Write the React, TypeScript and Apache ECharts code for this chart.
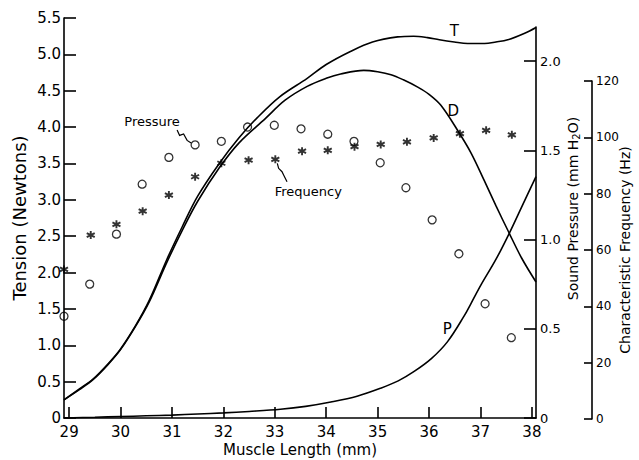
import React, { useEffect, useRef } from "react";
import * as echarts from "echarts";

const FONT = "DejaVu Sans";

// Muscle length tick values (mm)
const xTickValues = [29, 30, 31, 32, 33, 34, 35, 36, 37, 38];
// Sound pressure tick values (mm H2O)
const pressureTickValues = [0, 0.5, 1.0, 1.5, 2.0];

// Curve T (tension, N) vs muscle length (mm)
const curveT: [number, number][] = [
  [28.9, 0.25], [29.2, 0.4], [29.47, 0.54], [29.75, 0.74], [30.0, 0.95],
  [30.3, 1.28], [30.56, 1.62], [30.9, 2.18], [31.2, 2.63], [31.5, 3.05],
  [31.92, 3.5], [32.3, 3.85], [32.66, 4.13], [33.1, 4.42], [33.63, 4.67],
  [34.0, 4.86], [34.47, 5.04], [34.9, 5.17], [35.39, 5.24], [35.7, 5.25],
  [35.97, 5.23], [36.2, 5.2], [36.49, 5.17], [36.75, 5.15], [37.08, 5.15],
  [37.3, 5.17], [37.53, 5.2], [37.86, 5.29], [38.08, 5.37],
];

// Curve D
const curveD: [number, number][] = [
  [28.9, 0.25], [29.2, 0.39], [29.47, 0.53], [29.75, 0.73], [30.0, 0.94],
  [30.3, 1.27], [30.56, 1.6], [30.9, 2.14], [31.2, 2.58], [31.5, 2.98],
  [31.92, 3.44], [32.3, 3.78], [32.82, 4.12], [33.2, 4.37], [33.63, 4.56],
  [34.0, 4.67], [34.28, 4.73], [34.73, 4.78], [35.0, 4.76], [35.26, 4.72],
  [35.5, 4.65], [35.78, 4.55], [36.0, 4.45], [36.23, 4.3], [36.56, 3.95],
  [36.82, 3.64], [37.07, 3.27], [37.3, 2.92], [37.56, 2.54], [37.8, 2.2],
  [38.08, 1.87],
];

// Curve P
const curveP: [number, number][] = [
  [28.9, 0.0], [29.5, 0.01], [30.0, 0.02], [30.5, 0.03], [31.0, 0.04],
  [31.5, 0.055], [32.0, 0.07], [32.5, 0.09], [33.11, 0.12], [33.6, 0.16],
  [34.09, 0.22], [34.6, 0.3], [35.06, 0.41], [35.4, 0.51], [35.71, 0.64],
  [36.05, 0.82], [36.36, 1.05], [36.68, 1.4], [36.82, 1.58], [37.01, 1.83],
  [37.3, 2.18], [37.56, 2.54], [37.8, 2.9], [38.08, 3.32],
];

// Sound pressure (mm H2O) measurements
const pressurePoints: [number, number][] = [
  [28.9, 0.57], [29.4, 0.75], [29.92, 1.03], [30.42, 1.31], [30.94, 1.46],
  [31.45, 1.53], [31.96, 1.55], [32.47, 1.63], [32.99, 1.64], [33.51, 1.62],
  [34.03, 1.59], [34.54, 1.55], [35.05, 1.43], [35.55, 1.29], [36.06, 1.11],
  [36.58, 0.92], [37.09, 0.64], [37.6, 0.45],
];

// Characteristic frequency (Hz) measurements
const frequencyPoints: [number, number][] = [
  [28.9, 53.1], [29.42, 65.3], [29.92, 69.1], [30.43, 73.8], [30.94, 79.5],
  [31.45, 86.0], [31.96, 90.8], [32.49, 91.9], [33.01, 92.2], [33.53, 95.1],
  [34.03, 95.4], [34.55, 96.7], [35.06, 97.5], [35.57, 98.4], [36.09, 99.8],
  [36.6, 101.3], [37.11, 102.5], [37.61, 100.9],
];

// Curve letter label anchors (on the curves)
const labelT: [number, number] = [36.49, 5.17];
const labelD: [number, number] = [36.28, 4.22];
const labelP: [number, number] = [36.52, 1.22];

// Annotation anchors (the marked measurement points)
const pressureNoteAt: [number, number] = [31.45, 1.53];
const frequencyNoteAt: [number, number] = [33.01, 92.2];

const X_MIN = 28.9;
const X_MAX = 38.08;

const BLACK = "#000";

const tickFmt = (v: number) => (v === 0 ? "0" : v.toFixed(1));

export default function App() {
  const ref = useRef<HTMLDivElement>(null);

  useEffect(() => {
    document.body.style.margin = "0";
    if (!ref.current) return;
    const chart = echarts.init(ref.current, undefined, { renderer: "svg" });

    const labelBase = { fontFamily: FONT, color: BLACK, fontSize: 15 };
    const lineStyle = { color: BLACK, width: 1.6 };

    const hiddenX = (grid: number) => ({
      gridIndex: grid,
      type: "value" as const,
      min: X_MIN,
      max: X_MAX,
      show: false,
    });

    const gridBox = (top: number, bottom: number) => ({
      left: 64,
      right: 103,
      top,
      bottom,
      containLabel: false,
      outerBoundsMode: "none",
    });

    const curveSeries = (name: string, data: [number, number][], letter: string, at: [number, number], pos: string) => ({
      name,
      type: "line" as const,
      xAxisIndex: 0,
      yAxisIndex: 0,
      data,
      smooth: 0.35,
      showSymbol: false,
      lineStyle: { color: BLACK, width: 1.6 },
      z: 3,
      markPoint: {
        symbol: "circle",
        symbolSize: 0,
        silent: true,
        data: [
          {
            coord: at,
            label: {
              show: true,
              formatter: letter,
              position: pos,
              distance: 4,
              fontFamily: FONT,
              fontSize: 15,
              color: BLACK,
            },
          },
        ],
      },
    });

    chart.setOption({
      animation: false,
      backgroundColor: "#fff",
      grid: [gridBox(18, 42), gridBox(27, 42), gridBox(81, 41)],
      xAxis: [
        {
          gridIndex: 0,
          type: "value",
          min: X_MIN,
          max: X_MAX,
          name: "Muscle Length (mm)",
          nameLocation: "middle",
          nameMoveOverlap: false,
          nameGap: 24,
          nameTextStyle: { fontFamily: FONT, fontSize: 15, color: BLACK },
          axisLine: { show: true, lineStyle },
          axisTick: { show: true, inside: true, length: 11, customValues: xTickValues, lineStyle },
          axisLabel: { ...labelBase, margin: 6, customValues: xTickValues },
          splitLine: { show: false },
        },
        hiddenX(1),
        hiddenX(2),
      ],
      yAxis: [
        {
          gridIndex: 0,
          type: "value",
          position: "left",
          min: 0,
          max: 5.5,
          interval: 0.5,
          name: "Tension (Newtons)",
          nameLocation: "middle",
          nameMoveOverlap: false,
          nameGap: 36,
          nameTextStyle: { fontFamily: FONT, fontSize: 18, color: BLACK },
          axisLine: { show: true, lineStyle },
          axisTick: { show: true, inside: true, length: 12, lineStyle },
          axisLabel: { ...labelBase, margin: 3, formatter: tickFmt },
          splitLine: { show: false },
        },
        {
          gridIndex: 1,
          type: "value",
          position: "right",
          min: 0,
          max: 391 / 178.5,
          name: "Sound Pressure (mm H{sub|2}O)",
          nameLocation: "middle",
          nameMoveOverlap: false,
          nameGap: 29,
          nameTextStyle: {
            fontFamily: FONT,
            fontSize: 14,
            color: BLACK,
            padding: [0, 0, 0, 28],
            rich: {
              sub: { fontFamily: FONT, fontSize: 10, color: BLACK, padding: [6, 0, 0, 0] },
            },
          },
          axisLine: { show: true, lineStyle },
          axisTick: { show: true, inside: true, length: 12, customValues: pressureTickValues, lineStyle },
          axisLabel: { ...labelBase, fontSize: 13, margin: 4, customValues: pressureTickValues, formatter: tickFmt },
          splitLine: { show: false },
        },
        {
          gridIndex: 2,
          type: "value",
          position: "right",
          offset: 56,
          min: 0,
          max: 120,
          interval: 20,
          name: "Characteristic Frequency (Hz)",
          nameLocation: "middle",
          nameMoveOverlap: false,
          nameGap: 26,
          nameTextStyle: { fontFamily: FONT, fontSize: 14, color: BLACK },
          axisLine: { show: true, lineStyle },
          axisTick: { show: true, inside: true, length: 8, lineStyle },
          axisLabel: { ...labelBase, fontSize: 12, margin: 4 },
          splitLine: { show: false },
        },
      ],
      series: [
        curveSeries("T", curveT, "T", labelT, "top"),
        curveSeries("D", curveD, "D", labelD, "right"),
        curveSeries("P", curveP, "P", labelP, "left"),
        {
          name: "Pressure",
          type: "scatter",
          xAxisIndex: 1,
          yAxisIndex: 1,
          data: pressurePoints,
          symbol: "circle",
          symbolSize: 8,
          itemStyle: { color: "rgba(0,0,0,0)", borderColor: BLACK, borderWidth: 1.3 },
          z: 4,
        },
        {
          name: "Frequency",
          type: "scatter",
          xAxisIndex: 2,
          yAxisIndex: 2,
          data: frequencyPoints,
          symbol: "path://M5,0L5,10M0.67,2.5L9.33,7.5M0.67,7.5L9.33,2.5",
          symbolSize: 8,
          itemStyle: { color: "rgba(0,0,0,0)", borderColor: BLACK, borderWidth: 1.9 },
          z: 4,
        },
      ],
    });

    const pc = chart.convertToPixel({ xAxisIndex: 1, yAxisIndex: 1 }, pressureNoteAt) as number[];
    const fc = chart.convertToPixel({ xAxisIndex: 2, yAxisIndex: 2 }, frequencyNoteAt) as number[];
    const rel = (c: number[], pts: number[][]) => pts.map(([dx, dy]) => [c[0] + dx, c[1] + dy]);

    chart.setOption({
      graphic: [
        {
          type: "text",
          x: pc[0] - 43,
          y: pc[1] - 23,
          style: { text: "Pressure", fontFamily: FONT, fontSize: 13, fill: BLACK, align: "center", verticalAlign: "middle" },
        },
        {
          type: "polyline",
          shape: { points: rel(pc, [[-18, -15], [-15.5, -9.5], [-11.5, -11], [-8, -4.5], [-4, -2]]) },
          style: { stroke: BLACK, lineWidth: 1.2, fill: "none" },
        },
        {
          type: "text",
          x: fc[0] + 33,
          y: fc[1] + 32,
          style: { text: "Frequency", fontFamily: FONT, fontSize: 13, fill: BLACK, align: "center", verticalAlign: "middle" },
        },
        {
          type: "polyline",
          shape: { points: rel(fc, [[2, 4], [3.3, 9], [6.7, 12.4], [8.3, 15.7], [11.7, 22.4]]) },
          style: { stroke: BLACK, lineWidth: 1.2, fill: "none" },
        },
      ],
    });

    return () => chart.dispose();
  }, []);

  return (
    <div
      ref={ref}
      style={{ position: "fixed", left: 0, top: 0, width: 639, height: 460, background: "#fff" }}
    />
  );
}
